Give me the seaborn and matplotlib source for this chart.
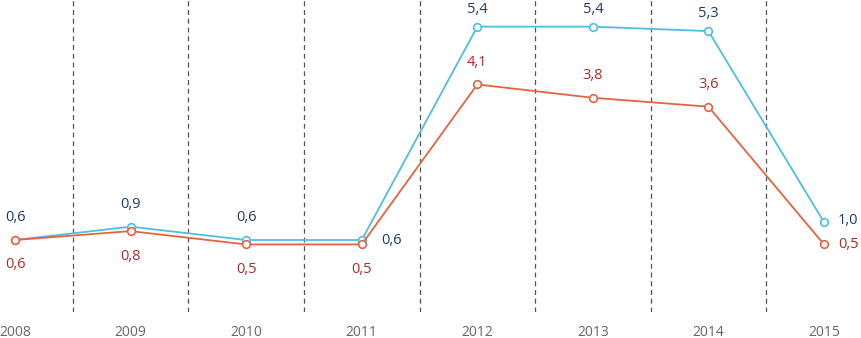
import matplotlib
matplotlib.use("Agg")
import matplotlib.pyplot as plt
import seaborn as sns
import pandas as pd

years = ["2008", "2009", "2010", "2011", "2012", "2013", "2014", "2015"]
series_blue = [0.6, 0.9, 0.6, 0.6, 5.4, 5.4, 5.3, 1.0]
series_red = [0.6, 0.8, 0.5, 0.5, 4.1, 3.8, 3.6, 0.5]

sns.set_theme(style="white")
plt.rcParams['font.family'] = ['Open Sans', 'DejaVu Sans']

fig = plt.figure(figsize=(8.61, 3.38), dpi=100)
ax = fig.add_axes([0, 26/338, 1, 312/338])

idx = list(range(len(years)))
df = pd.DataFrame({"x": idx * 2,
                   "v": series_blue + series_red,
                   "s": ["blue"] * len(years) + ["red"] * len(years)})

line_colors = {"blue": "#4dbfe0", "red": "#e8623f"}
for i in range(len(years) - 1):
    ax.axvline(i + 0.5, color="#555555", lw=0.9, ls=(0, (4, 3)), zorder=1)

sns.lineplot(data=df, x="x", y="v", hue="s", palette=line_colors, marker="o",
             markersize=5.5, markerfacecolor="white", markeredgewidth=1.2,
             linewidth=1.3, legend=False, ax=ax, zorder=3)
for ln in ax.get_lines():
    ln.set_markeredgecolor(ln.get_color())

blue_txt = "#1f3a68"
red_txt = "#b02a2a"
fmt = lambda v: f"{v:.1f}".replace(".", ",")
fs = 10.5

for i, v in enumerate(series_blue):
    if i == 3:
        off, ha, va = (14, 0), "left", "center"
    elif i == 7:
        off, ha, va = (10, 1), "left", "center"
    elif i in (4, 5, 6):
        off, ha, va = (0, 12.5), "center", "center"
    else:
        off, ha, va = (0, 16), "center", "center"
    ax.annotate(fmt(v), (i, v), xytext=off, textcoords="offset points",
                ha=ha, va=va, color=blue_txt, fontsize=fs)

for i, v in enumerate(series_red):
    if i in (4, 5, 6):
        off, ha, va = (0, 16), "center", "center"
    elif i == 7:
        off, ha, va = (10, 0), "left", "center"
    else:
        off, ha, va = (0, -18), "center", "center"
    ax.annotate(fmt(v), (i, v), xytext=off, textcoords="offset points",
                ha=ha, va=va, color=red_txt, fontsize=fs)

ax.set_xlim(-0.13, 7.32)
ax.set_ylim(-1.02, 6.0)
ax.set_xticks(idx)
ax.set_xticklabels(years, color="#666666", fontsize=10)
ax.tick_params(axis="x", length=0, pad=9)
ax.set_yticks([])
ax.set_xlabel("")
ax.set_ylabel("")
for sp in ax.spines.values():
    sp.set_visible(False)

fig.savefig("out.png", dpi=100)
